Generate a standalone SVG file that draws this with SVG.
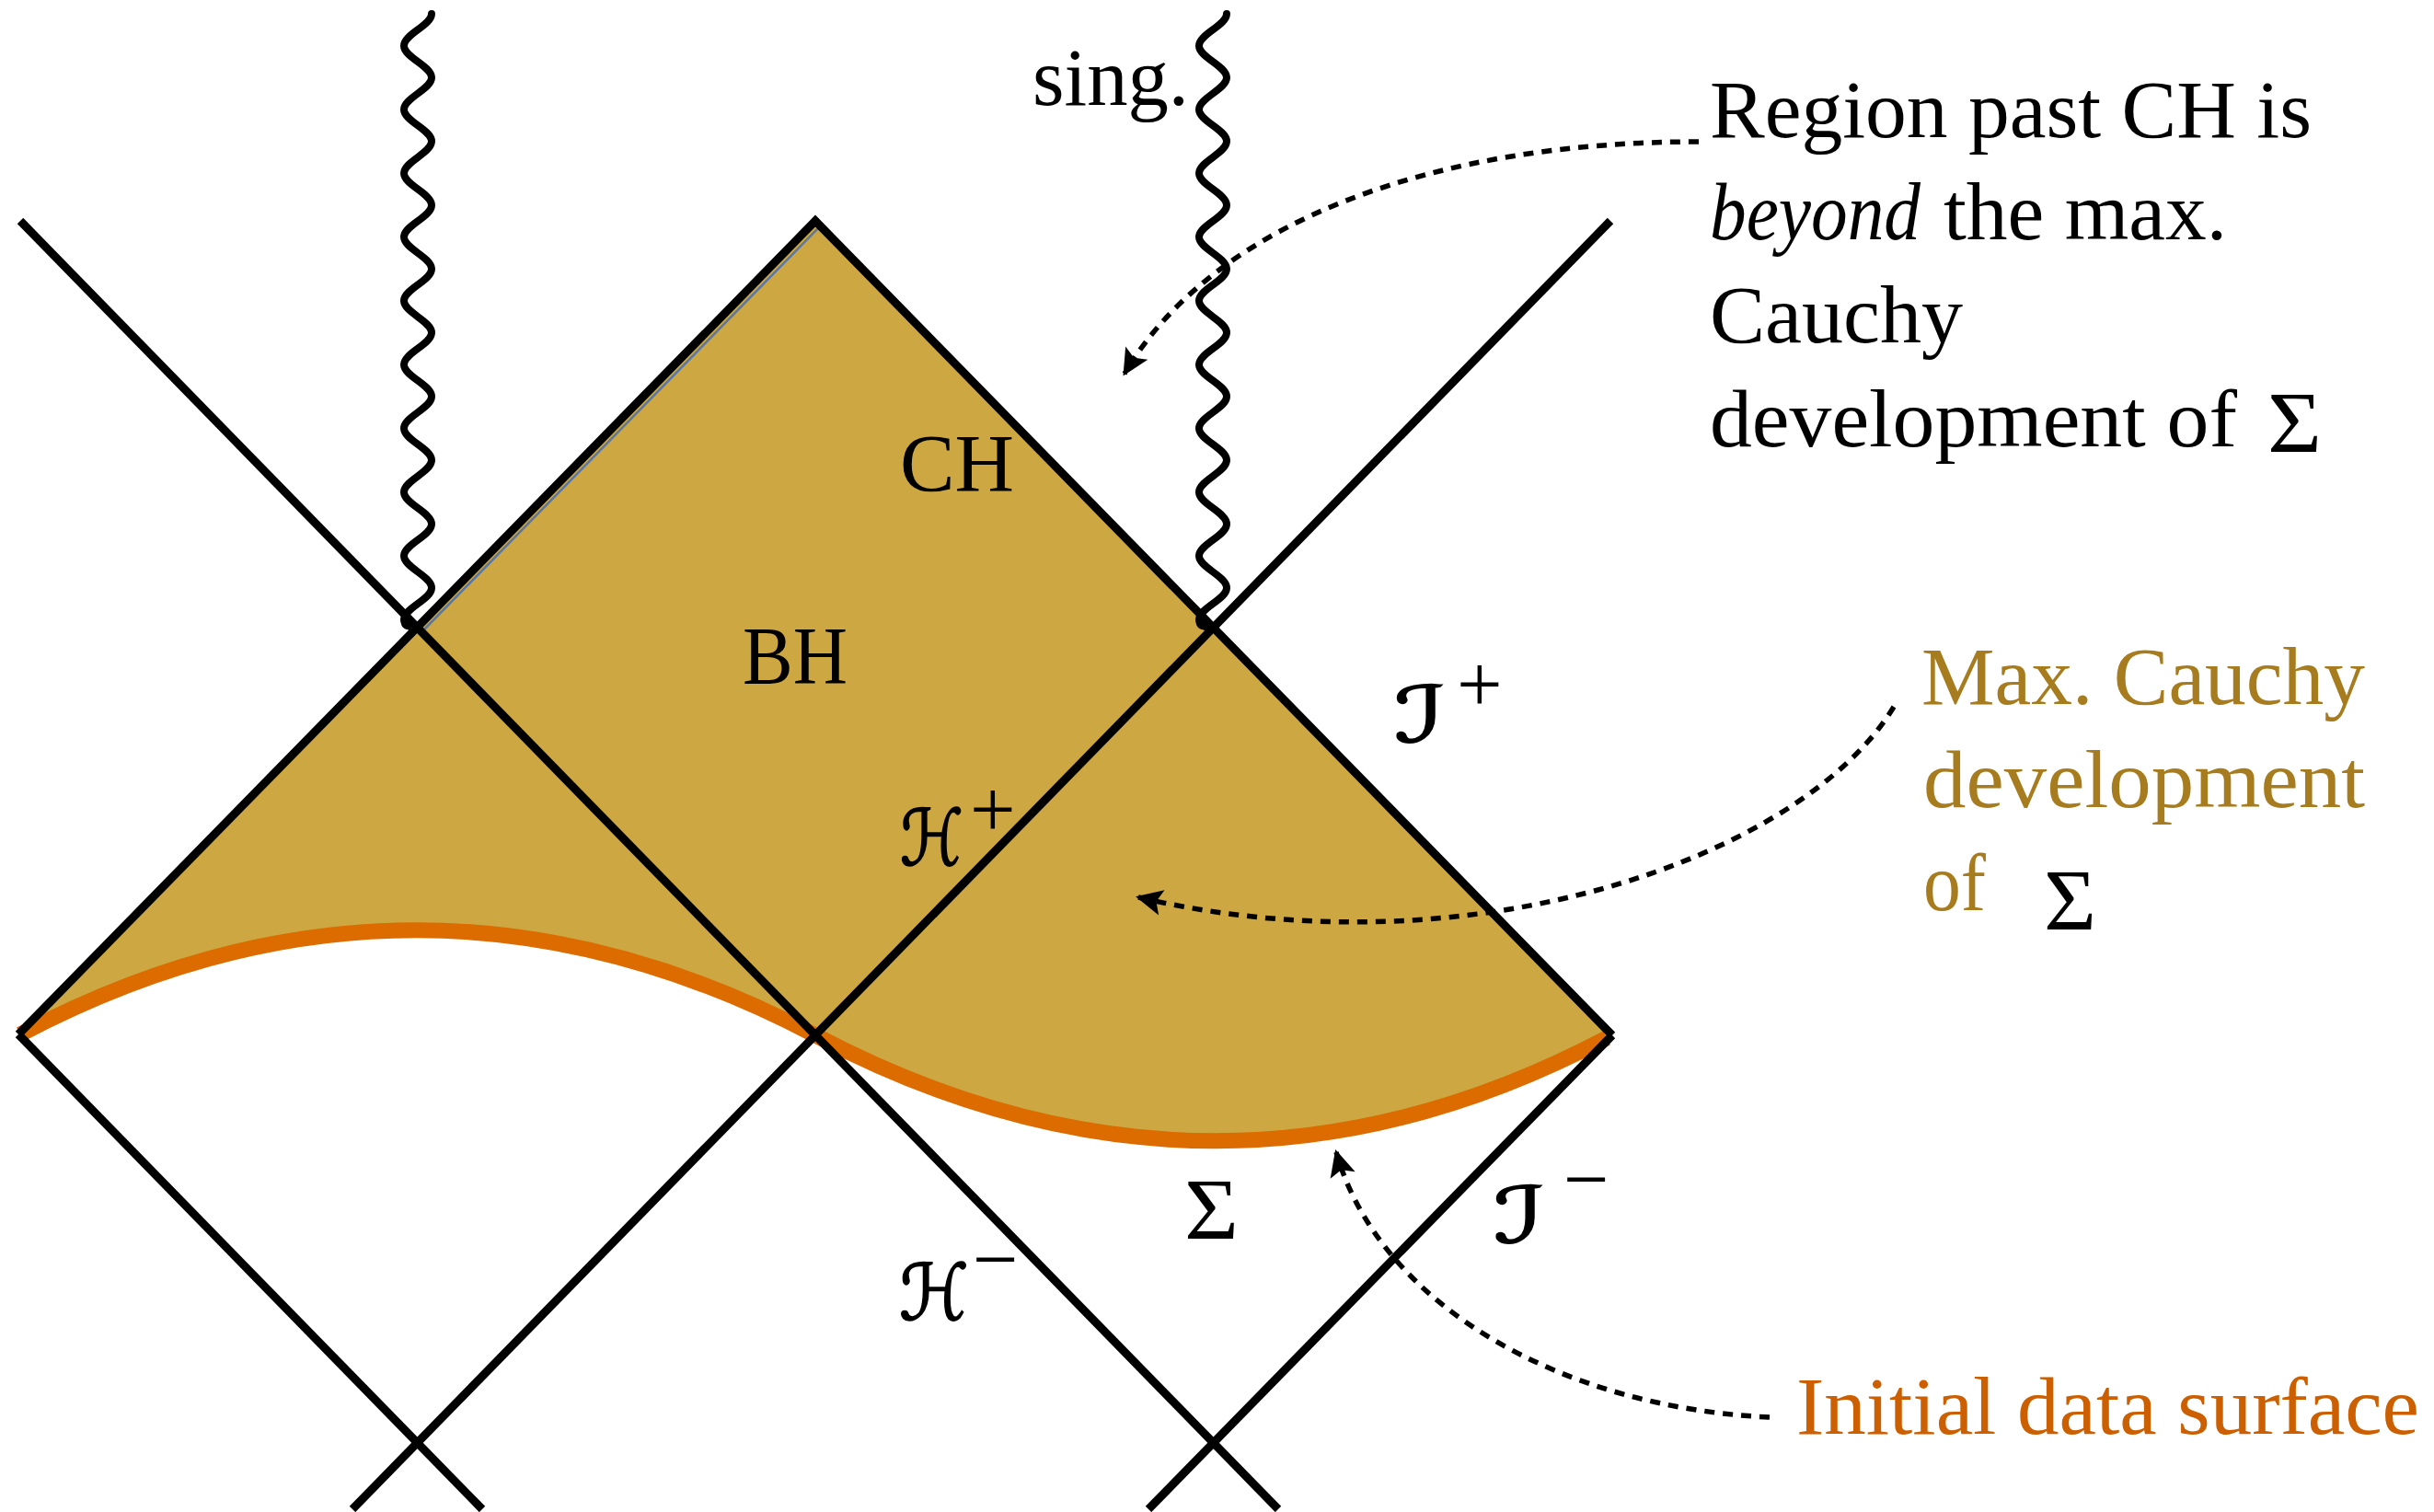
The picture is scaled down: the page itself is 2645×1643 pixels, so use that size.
<svg xmlns="http://www.w3.org/2000/svg" width="2645" height="1643" viewBox="0 0 2645 1643">
<style>
.ln{stroke:#000;stroke-width:9;fill:none;stroke-linecap:butt;stroke-linejoin:miter}
.wave{stroke:#000;stroke-width:8;fill:none;stroke-linecap:round}
.ids{stroke:#DC6B00;stroke-width:17;fill:none;stroke-linecap:butt}
.dash{stroke:#000;stroke-width:5.5;stroke-dasharray:11 9;fill:none;marker-end:url(#ah)}
.t{font-family:"Liberation Serif","Times New Roman",serif;font-size:88px;fill:#000}
.it{font-style:italic}
.gold{fill:#A67C1E}
.orng{fill:#CC5F00}
.sig{font-family:"Liberation Serif",serif;font-size:96px;fill:#000}
.m{font-family:"DejaVu Serif","DejaVu Sans",serif;font-size:84px;fill:#000;stroke:#000;stroke-width:1.6}
.pm{font-family:"Liberation Serif",serif;font-size:88px;fill:#000}
</style>
<defs>
<marker id="ah" markerUnits="userSpaceOnUse" orient="auto" refX="0" refY="0" markerWidth="40" markerHeight="40" overflow="visible">
<path d="M3,0 L-26,-14 L-20,0 L-26,14 Z" fill="#000"/>
</marker>
</defs>
<rect width="2645" height="1643" fill="#fff"/>

<g id="max-cauchy-development">
<path d="M20,1124 L886,240 L1752,1125 Q1319,1353 886,1125 Q453,897 20,1124 Z" fill="#CDA842"/>
<line x1="461" y1="684" x2="890" y2="247" stroke="#5A77A8" stroke-width="2.5"/>
</g>

<g id="initial-data-surface">
<path class="ids" d="M22,1124 Q453,897 886,1125"/>
<path class="ids" d="M886,1125 Q1319,1353 1746,1128"/>
</g>

<g id="penrose-lines">
<line class="ln" x1="22" y1="240" x2="1389" y2="1640"/>
<line class="ln" x1="1750" y1="240" x2="383" y2="1640"/>
<polyline class="ln" points="20,1124 886,240 1752,1125"/>
<line class="ln" x1="20" y1="1124" x2="524" y2="1640"/>
<line class="ln" x1="1752" y1="1125" x2="1248" y2="1640"/>
</g>

<g id="singularity-left">
<path class="wave" d="M469,15 c0,12.6 -30,22.05 -30,34.65 s30,22.05 30,34.65 s-30,22.05 -30,34.65 s30,22.05 30,34.65 s-30,22.05 -30,34.65 s30,22.05 30,34.65 s-30,22.05 -30,34.65 s30,22.05 30,34.65 s-30,22.05 -30,34.65 s30,22.05 30,34.65 s-30,22.05 -30,34.65 s30,22.05 30,34.65 s-30,22.05 -30,34.65 s30,22.05 30,34.65 s-30,22.05 -30,34.65 s30,22.05 30,34.65 s-30,22.05 -30,34.65 s30,22.05 30,34.65 s-30,22.05 -30,34.65 q0,8 14,9"/>
<circle cx="443" cy="677" r="7" fill="#000"/>
</g>
<g id="singularity-right">
<path class="wave" d="M1333,15 c0,12.6 -30,22.05 -30,34.65 s30,22.05 30,34.65 s-30,22.05 -30,34.65 s30,22.05 30,34.65 s-30,22.05 -30,34.65 s30,22.05 30,34.65 s-30,22.05 -30,34.65 s30,22.05 30,34.65 s-30,22.05 -30,34.65 s30,22.05 30,34.65 s-30,22.05 -30,34.65 s30,22.05 30,34.65 s-30,22.05 -30,34.65 s30,22.05 30,34.65 s-30,22.05 -30,34.65 s30,22.05 30,34.65 s-30,22.05 -30,34.65 s30,22.05 30,34.65 s-30,22.05 -30,34.65 q0,8 14,9"/>
<circle cx="1307" cy="677" r="7" fill="#000"/>
<text class="t" x="1122" y="114" textLength="170" lengthAdjust="spacingAndGlyphs">sing.</text>
</g>

<g id="region-labels">
<text class="t" x="978" y="533" textLength="124" lengthAdjust="spacingAndGlyphs">CH</text>
<text class="t" x="807" y="742" textLength="114" lengthAdjust="spacingAndGlyphs">BH</text>
<text class="sig" x="1287" y="1347" textLength="59" lengthAdjust="spacingAndGlyphs">Σ</text>
</g>

<g id="horizon-labels">
<text><tspan class="m" x="978" y="940" textLength="69" lengthAdjust="spacingAndGlyphs">ℋ</tspan><tspan class="pm" x="1054" y="909">+</tspan></text>
<text><tspan class="m" x="977" y="1434" textLength="76" lengthAdjust="spacingAndGlyphs">ℋ</tspan><tspan class="pm" x="1057" y="1398">−</tspan></text>
</g>

<g id="scri-labels">
<text><tspan class="m" x="1515" y="806" textLength="56" lengthAdjust="spacingAndGlyphs">ℐ</tspan><tspan class="pm" x="1583" y="773">+</tspan></text>
<text><tspan class="m" x="1623" y="1350" textLength="56" lengthAdjust="spacingAndGlyphs">ℐ</tspan><tspan class="pm" x="1699" y="1311" font-size="80">−</tspan></text>
</g>

<g id="note-beyond">
<text class="t" x="1858" y="149" textLength="654" lengthAdjust="spacingAndGlyphs">Region past CH is</text>
<text class="t it" x="1858" y="260" textLength="229" lengthAdjust="spacingAndGlyphs">beyond</text>
<text class="t" x="2112" y="260" textLength="308" lengthAdjust="spacingAndGlyphs">the max.</text>
<text class="t" x="1858" y="372" textLength="275" lengthAdjust="spacingAndGlyphs">Cauchy</text>
<text class="t" x="1858" y="485" textLength="573" lengthAdjust="spacingAndGlyphs">development of</text>
<text class="sig" x="2464" y="492" textLength="59" lengthAdjust="spacingAndGlyphs">Σ</text>
</g>

<g id="note-max-cauchy">
<text class="t gold" x="2088" y="765" textLength="482" lengthAdjust="spacingAndGlyphs">Max. Cauchy</text>
<text class="t gold" x="2090" y="877" textLength="480" lengthAdjust="spacingAndGlyphs">development</text>
<text class="t gold" x="2090" y="989" textLength="68" lengthAdjust="spacingAndGlyphs">of</text>
<text class="sig" x="2221" y="1011" textLength="57" lengthAdjust="spacingAndGlyphs">Σ</text>
</g>

<g id="note-initial">
<text class="t orng" x="1952" y="1558" textLength="677" lengthAdjust="spacingAndGlyphs">Initial data surface</text>
</g>

<g id="connectors">
<path class="dash" d="M1846,154 C1560,154 1320,240 1222,406"/>
<path class="dash" d="M2058,768 C1960,930 1600,1060 1237,975"/>
<path class="dash" d="M1923,1540 C1700,1530 1500,1420 1452,1252"/>
</g>
</svg>
